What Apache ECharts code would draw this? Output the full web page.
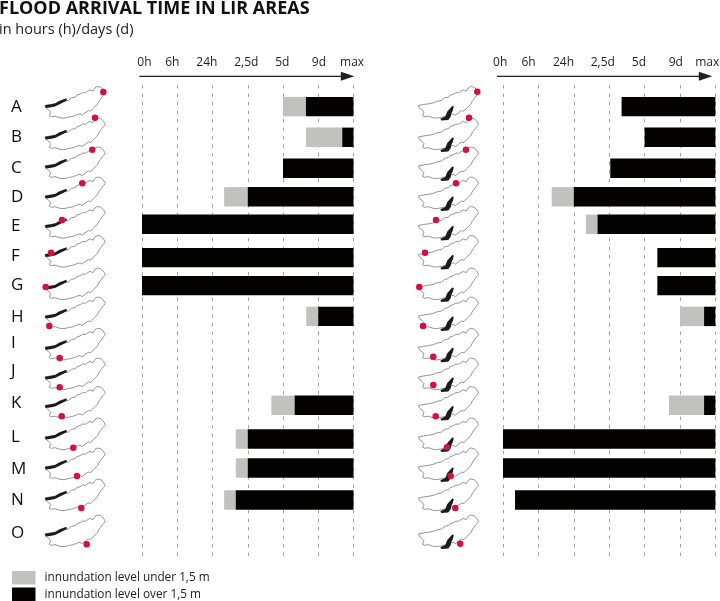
<!DOCTYPE html>
<html><head><meta charset="utf-8">
<style>html,body{margin:0;padding:0;background:#fff}#c{width:720px;height:601px}</style>
<script src="https://cdn.jsdelivr.net/npm/echarts@6/dist/echarts.min.js"></script>
</head><body><div id="c"></div>
<script>
// ---------- data ----------
const areas = ['A','B','C','D','E','F','G','H','I','J','K','L','M','N','O'];
const tickLabels = ['0h','6h','24h','2,5d','5d','9d','max'];
const tickSteps = [0,1,2,3,4,5,6];
// arrival position on the time scale (0 = 0h ... 6 = max); null = not flooded
const leftUnder  = [4,4.65,null,2.33,null,null,null,4.66,null,null,3.67,2.66,2.66,2.33,null];
const leftOver   = [4.65,5.68,4,3,0,0,0,5,null,null,4.33,3,3,2.66,null];
const rightUnder = [null,null,null,1.375,2.34,null,null,5,null,null,4.69,null,null,null,null];
const rightOver  = [3.35,4,3.03,2,2.67,4.36,4.36,5.68,null,null,5.68,0,0,0.34,null];
const endOfScale = 6;

// ---------- layout ----------
const FONT = '"Open Sans", sans-serif';
const rowY   = [106.6,137.3,168.3,196.8,224.3,257.6,285.6,316.4,344,372,405.3,439,468,500,533];
const letterY= [107,137,168,197.5,226,256,285,316.7,343,371,403,437,469,500,533];
const barH = 19.4;
const labelAtLeft  = [0.07,0.86,1.84,2.96,3.98,5.02,5.96];
const labelAtRight = [-0.08,0.72,1.71,2.82,3.84,4.88,5.77];
const mapTipY = [105.5,137,166,196,225.5,254.5,287,316,347.3,377,405.5,437,467,498,534];
const mapTipX = [45,418.3];
const dotLeftX  = [103.3,95,92.3,82.3,62,51,45.7,49.3,59.7,59.7,61.7,73.3,77,81.3,86.7];
const dotLeftY  = [92,117.7,149.7,183.3,220,252.7,287,326,358,387.3,416.3,447.7,476,508,544.3];
const dotRightX = [477.3,469,466,456,436,425,419.3,423,433.3,433.3,435.7,447,450.7,455.3,460.3];
const dotRightY = [91.7,117.7,149.7,183.3,220,252.7,287,326,356.7,385,416.3,447.3,476,508,543.7];
const outline = [[55,75],[60,84],[66,88],[72,95],[68,106],[75,109],[85,107],[100,112],[112,113],[125,110],[140,107],[152,102],[160,100],[166,104],[175,97],[185,90],[192,92],[200,83],[212,72],[218,60],[222,55],[230,44],[236,38],[230,27],[222,20],[212,18],[205,22],[199,32],[190,28],[183,32],[176,37],[168,36],[160,41],[150,44],[146,50],[134,52],[125,60],[112,62],[100,67],[85,70],[70,72],[55,75]]
  .map(p => [(p[0]-55)/3,(p[1]-75)/3]);
const riverLeft = [[0,-0.3],[5,-1],[10,-2],[14,-4.5],[18,-6],[21.5,-7.2],[21.8,-5],[18,-3],[14,-1],[10,1],[5,2],[0.5,2.6]];
const riverRight = [[22,13.2],[27,11],[29,6],[34,0.5],[35.5,1],[34.5,5],[33,8],[32.5,11],[30,14.5],[23,15]];

function barRows(starts, ends){
  const out=[];
  starts.forEach((s,i)=>{ if(s!==null) out.push([s, ends===null? endOfScale : ends[i], rowY[i]]); });
  return out;
}
function renderBar(color){
  return function(params, api){
    const a = api.coord([api.value(0), api.value(2)]);
    const b = api.coord([api.value(1), api.value(2)]);
    return {type:'rect', shape:{x:a[0], y:a[1]-barH/2, width:b[0]-a[0], height:barH}, style:{fill:color}};
  };
}
const GREY='#c1c1c0', BLACK='#050302', NAME_U='innundation level under 1,5 m', NAME_O='innundation level over 1,5 m';
function barSeries(name,color,axis,data){
  return {type:'custom', name, xAxisIndex:axis, yAxisIndex:axis, coordinateSystem:'cartesian2d', z:3,
    itemStyle:{color}, data, encode:{x:[0,1],y:2}, renderItem:renderBar(color), silent:true, clip:false};
}
function xAx(gridIndex,min,labelsAt){
  return {type:'value', gridIndex, position:'top', offset:9, min, max:endOfScale,
    axisLine:{show:false},
    axisTick:{show:false, customValues:tickSteps},
    splitLine:{show:true, lineStyle:{type:[3.5,5], color:'#a3a3a3', width:1}},
    axisLabel:{show:true, customValues:labelsAt, margin:7, color:'#231f20', fontFamily:FONT, fontSize:12,
      formatter:(v)=>tickLabels[labelsAt.indexOf(v)], hideOverlap:false, showMinLabel:true, showMaxLabel:true}};
}
function yAx(gridIndex,withLetters){
  return {type:'value', gridIndex, inverse:true, min:85, max:556, axisLine:{show:false}, axisTick:{show:false},
    splitLine:{show:false},
    axisLabel: withLetters ? {show:true, customValues:letterY, align:'left', margin:131, color:'#111', fontFamily:FONT, fontSize:17,
      formatter:(v)=>areas[letterY.indexOf(v)]} : {show:false}};
}
// map outline + river, drawn on the page-scale grid
const mapData=[];
areas.forEach((a,i)=>{ mapData.push([mapTipX[0],mapTipY[i],0]); mapData.push([mapTipX[1],mapTipY[i],1]); });
function poly(api,ox,oy,pts){ return pts.map(p=>api.coord([ox+p[0],oy+p[1]])); }
const arrowData=[[139.3,354.3,76.3],[497,712.3,76.3]];

const option={
  animation:false, backgroundColor:'#fff', textStyle:{fontFamily:FONT},
  title:{text:'FLOOD ARRIVAL TIME IN LIR AREAS', subtext:'in hours (h)/days (d)', left:-1, top:0, itemGap:4, padding:0,
    textStyle:{fontFamily:FONT,fontWeight:'bold',fontSize:18,color:'#111'},
    subtextStyle:{fontFamily:FONT,fontSize:14.5,color:'#222'}},
  legend:{show:true, orient:'vertical', left:12, top:571, padding:0, itemWidth:23.5, itemHeight:13.5, itemGap:3, icon:'rect',
    data:[NAME_U,NAME_O], selectedMode:false,
    textStyle:{fontFamily:FONT,fontSize:11.8,color:'#222',padding:[0,0,0,4]}},
  grid:[
    {left:142, width:211.5, top:85, height:471, containLabel:false, outerBoundsMode:'none'},
    {left:503-0.2*35.4, width:6.2*35.4, top:85, height:471, containLabel:false, outerBoundsMode:'none'},
    {left:0, top:0, width:720, height:601, containLabel:false, outerBoundsMode:'none'}
  ],
  xAxis:[xAx(0,0,labelAtLeft), xAx(1,-0.2,labelAtRight), {type:'value',gridIndex:2,min:0,max:720,show:false}],
  yAxis:[yAx(0,true), yAx(1,false), {type:'value',gridIndex:2,min:0,max:601,inverse:true,show:false}],
  series:[
    barSeries(NAME_U,GREY,0,barRows(leftUnder,leftOver)),
    barSeries(NAME_O,BLACK,0,barRows(leftOver,null)),
    barSeries(NAME_U,GREY,1,barRows(rightUnder,rightOver)),
    barSeries(NAME_O,BLACK,1,barRows(rightOver,null)),
    {type:'custom', name:'maps', xAxisIndex:2, yAxisIndex:2, z:1, silent:true, data:mapData, encode:{x:0,y:1},
      renderItem(params,api){
        const ox=api.value(0), oy=api.value(1), panel=api.value(2);
        return {type:'group', children:[
          {type:'polygon', shape:{points:poly(api,ox,oy,outline)}, style:{fill:'none',stroke:'#8a8a8a',lineWidth:0.9}},
          {type:'polygon', shape:{points:poly(api,ox,oy,panel===0?riverLeft:riverRight)}, style:{fill:'#1c1a1a'}}
        ]};
      }},
    {type:'scatter', name:'points left', xAxisIndex:2, yAxisIndex:2, z:4, silent:true, symbolSize:6.5,
      itemStyle:{color:'#d5103f',opacity:1}, data:dotLeftX.map((x,i)=>[x,dotLeftY[i]])},
    {type:'scatter', name:'points right', xAxisIndex:2, yAxisIndex:2, z:4, silent:true, symbolSize:6.5,
      itemStyle:{color:'#d5103f',opacity:1}, data:dotRightX.map((x,i)=>[x,dotRightY[i]])},
    {type:'custom', name:'time arrow', xAxisIndex:2, yAxisIndex:2, z:5, silent:true, data:arrowData, encode:{x:[0,1],y:2},
      renderItem(params,api){
        const a=api.coord([api.value(0),api.value(2)]), b=api.coord([api.value(1),api.value(2)]);
        return {type:'group', children:[
          {type:'line', shape:{x1:a[0],y1:a[1],x2:b[0]-6,y2:b[1]}, style:{stroke:'#231f20',lineWidth:1.3}},
          {type:'polygon', shape:{points:[[b[0]-13.5,b[1]-4.5],[b[0],b[1]],[b[0]-13.5,b[1]+4.5]]}, style:{fill:'#231f20'}}
        ]};
      }}
  ]
};
const chart=echarts.init(document.getElementById('c'),null,{renderer:'canvas'});
chart.setOption(option);
</script></body></html>
